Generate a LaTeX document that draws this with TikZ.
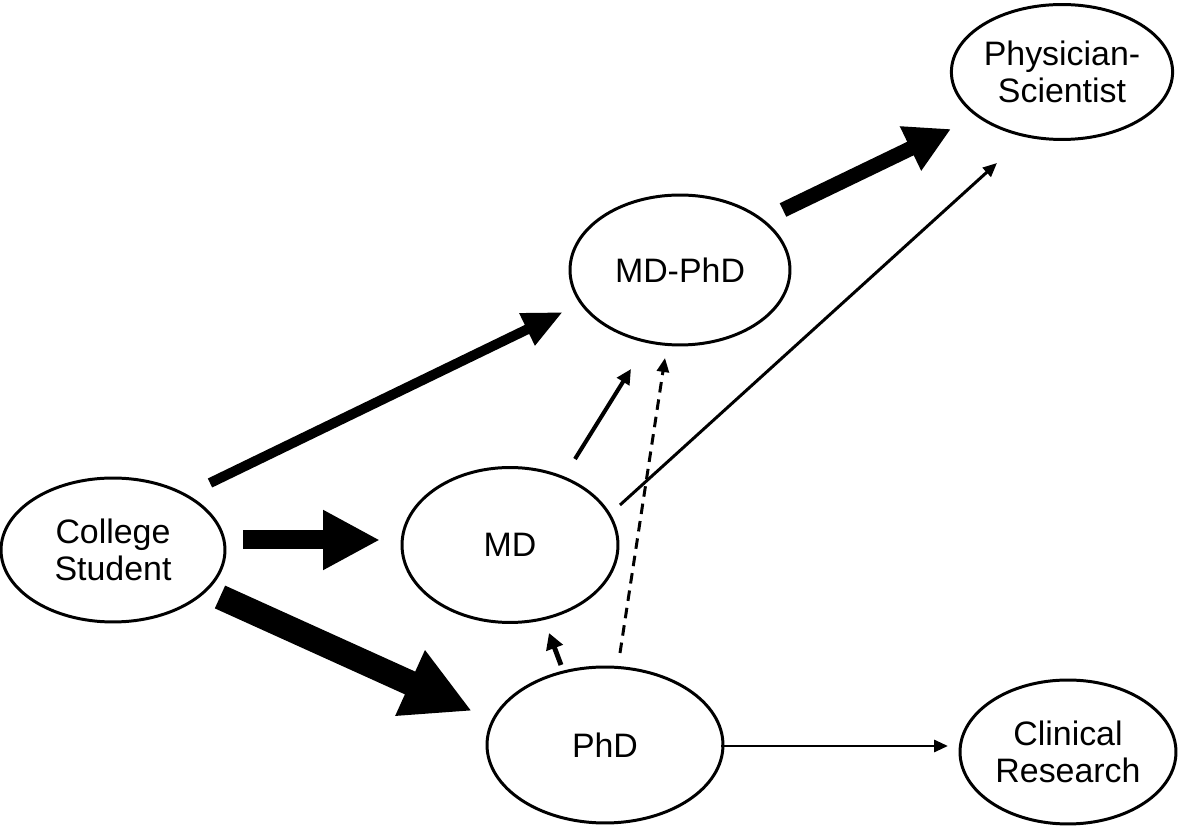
\documentclass[tikz,border=0pt]{standalone}
\usepackage{fontspec}
\setmainfont{Liberation Sans}
\usetikzlibrary{arrows.meta,shapes.geometric}
\begin{document}
\begin{tikzpicture}[x=0.02cm,y=-0.02cm,
  ell/.style={ellipse,draw,line width=1.7pt,inner sep=0pt,align=center,
    font=\fontsize{19.3}{21}\selectfont},
  thin/.style={line width=1.7pt,-{Triangle[width=0.24cm,length=0.28cm]}},
  med/.style={line width=2.3pt,-{Triangle[width=0.28cm,length=0.3cm]}}]
\useasboundingbox (0,0) rectangle (1181,830);
\node[ell,minimum width=4.48cm,minimum height=2.88cm] (cs) at (113,550) {College\\Student};
\node[ell,minimum width=4.32cm,minimum height=3.10cm] (md) at (510,545) {MD};
\node[ell,minimum width=4.40cm,minimum height=3.00cm] (mdphd) at (680,270) {MD-PhD};
\node[ell,minimum width=4.18cm,minimum height=2.70cm] (phys) at (1062,72) {Physician-\\Scientist};
\node[ell,minimum width=4.72cm,minimum height=3.12cm] (phd) at (605,745) {PhD};
\node[ell,minimum width=4.32cm,minimum height=2.88cm] (clin) at (1068,752) {Clinical\\Research};
% thick arrows
\draw[line width=0.2cm,-{Triangle[width=0.66cm,length=0.8cm]}]
  ([shift={(97,-67)}]cs.center) -- ([shift={(-117,42)}]mdphd.center);
\draw[line width=0.38cm,-{Triangle[width=1.12cm,length=1.14cm]}]
  ([shift={(130,-10)}]cs.center) -- ([shift={(-130,-5)}]md.center);
\draw[line width=0.5cm,-{Triangle[width=1.34cm,length=1.36cm]}]
  ([shift={(107,47)}]cs.center) -- ([shift={(-133,-34)}]phd.center);
\draw[line width=0.3cm,-{Triangle[width=0.92cm,length=0.9cm]}]
  ([shift={(103,-60)}]mdphd.center) -- ([shift={(-111,57)}]phys.center);
% thin arrows
\draw[thin] ([shift={(110,-40)}]md.center) -- ([shift={(-65,91)}]phys.center);
\draw[med] ([shift={(65,-86)}]md.center) -- ([shift={(-49,99)}]mdphd.center);
\draw[thin,dash pattern=on 6pt off 4pt] ([shift={(15,-92)}]phd.center) -- ([shift={(-15,88)}]mdphd.center);
\draw[line width=2.8pt,-{Triangle[width=0.34cm,length=0.32cm]}] ([shift={(-44,-80)}]phd.center) -- ([shift={(39,88)}]md.center);
\draw[thin] ([shift={(116,1)}]phd.center) -- ([shift={(-120,-6)}]clin.center);
\end{tikzpicture}
\end{document}
